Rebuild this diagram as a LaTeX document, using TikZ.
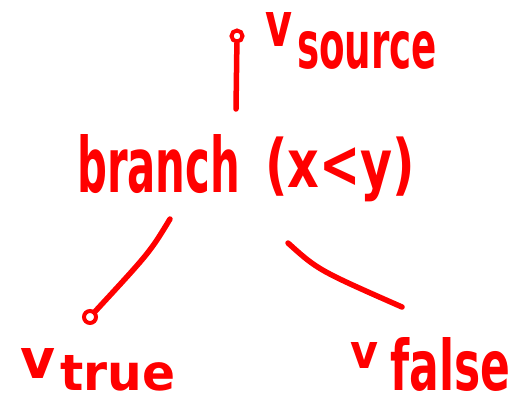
\documentclass[tikz,border=0pt]{standalone}
\usepackage{fontspec}
\setmainfont{DejaVu Sans}
\begin{document}
\begin{tikzpicture}[x=1pt,y=-1pt,
  ink/.style={draw=red,line width=5.5pt,line cap=round,line join=round},
  lbl/.style={text=red,inner sep=0pt,anchor=south west,font=\bfseries},
  pin/.style={circle,draw=red,line width=4pt,inner sep=0pt,minimum size=11pt}]
\useasboundingbox (0,0) rectangle (520,397);

% source value
\node[pin] (srcpin) at (237,36) {};
\coordinate (srcend) at (236,109);
\draw[ink] (srcpin) -- (srcend);
\node[lbl] (vsrc) at (265,47) {\resizebox{27pt}{34pt}{v}};
\node[lbl] (source) at (297,70) {\resizebox{140pt}{37pt}{source}};

% branch instruction
\node[lbl] (branch) at (77,194) {\resizebox{163pt}{58pt}{branch}};
\node[lbl] (cond) at (265,202) {\resizebox*{150pt}{65pt}{(x<y)}};

% true edge
\coordinate (tstart) at (170,219);
\node[pin,minimum size=12pt] (tpin) at (90,317) {};
\draw[ink] (tstart) .. controls (150,252) .. (tpin);
\node[lbl] (vtrue) at (20,379) {\resizebox{35pt}{30pt}{v}};
\node[lbl] (true) at (60,391) {\resizebox{115pt}{35pt}{true}};

% false edge
\coordinate (fstart) at (288,243);
\coordinate (fend) at (402,307);
\draw[ink] (fstart) .. controls (318,270) .. (fend);
\node[lbl] (vfalse) at (350,369) {\resizebox{28pt}{26pt}{v}};
\node[lbl] (false) at (390,392) {\resizebox{120pt}{53pt}{false}};
\end{tikzpicture}
\end{document}
